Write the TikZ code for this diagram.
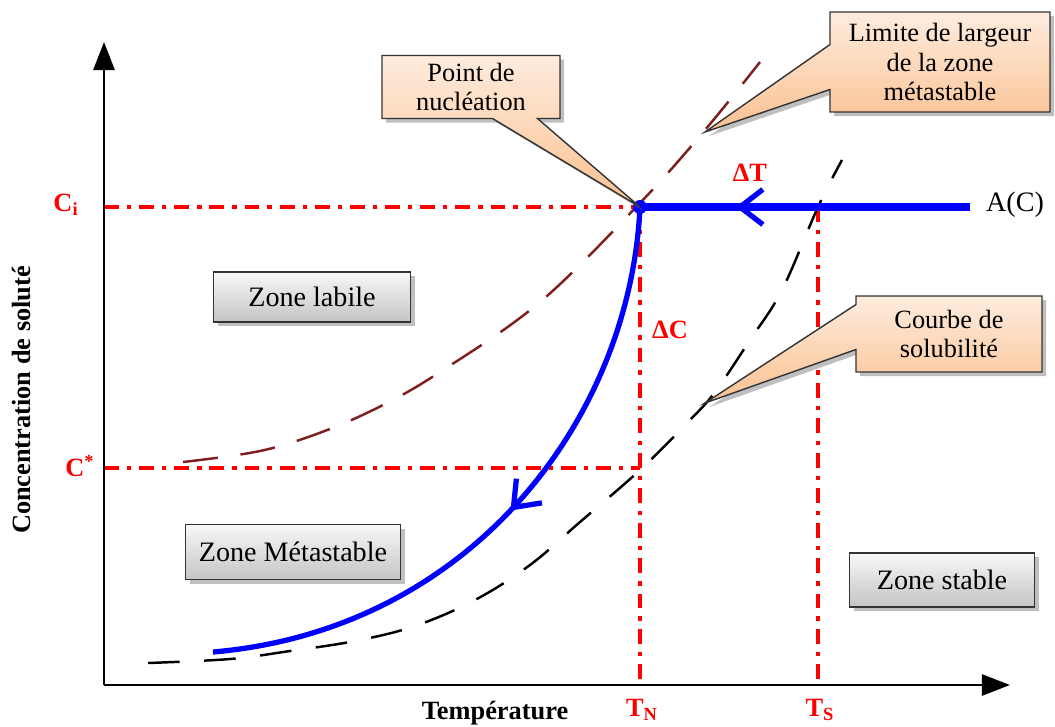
\documentclass[tikz,border=0pt]{standalone}
\usepackage{fontspec}
\setmainfont{Liberation Serif}
\usetikzlibrary{arrows.meta,shapes.callouts,shadows,decorations.markings}
\definecolor{peachtop}{RGB}{254,236,222}
\definecolor{peachbot}{RGB}{250,192,143}
\definecolor{greytop}{RGB}{248,248,248}
\definecolor{greybot}{RGB}{196,196,196}
\definecolor{brownline}{RGB}{128,30,30}
\begin{document}
\begin{tikzpicture}[x=0.02cm, y=-0.02cm,
        axis/.style={line width=1.5pt, -{Triangle[length=16pt,width=12pt]}},
        guide/.style={red, line width=2pt, dash pattern=on 8.5pt off 4.5pt on 2.5pt off 4.5pt},
        limit/.style={brownline, line width=1.4pt, dash pattern=on 20pt off 13pt},
        solub/.style={black, line width=1.4pt, dash pattern=on 18pt off 14pt},
        path/.style={blue, line width=3pt},
        tag/.style={red, font=\bfseries\fontsize{15}{18}\selectfont},
        bubble/.style={rectangle callout, draw=black!80, thick, top color=peachtop, bottom color=peachbot,
          drop shadow, align=center, callout pointer width=0.9cm, font=\fontsize{15}{17}\selectfont},
        zone/.style={rectangle, draw=black!80, thick, top color=greytop, bottom color=greybot,
          drop shadow, font=\fontsize{16}{18}\selectfont},
        midarrow/.style={postaction={decorate, decoration={markings,
          mark=at position #1 with {\arrow{Straight Barb[length=13pt,width=20pt,line width=3pt]}}}}}
      ]
      \useasboundingbox (0,0) rectangle (1055,727);
      % points
      \coordinate (O) at (104,685);
      \coordinate (ytop) at (104,42);
      \coordinate (xend) at (1010,685);
      \coordinate (ni) at (640,207);
      \coordinate (ci) at (104,207);
      \coordinate (cs) at (104,468);
      \coordinate (pn) at (640,468);
      \coordinate (tn) at (640,685);
      \coordinate (ts) at (818,685);
      \coordinate (tstop) at (818,207);
      \coordinate (ac) at (970,207);
      \coordinate (pend) at (213,652);
      \coordinate (limtip) at (705,132);
      \coordinate (soltip) at (705,403);
      % guides
      \draw[guide] (ci) -- (ni);
      \draw[guide] (cs) -- (pn);
      \draw[guide] (ni) -- (tn);
      \draw[guide] (tstop) -- (ts);
      % curves
      \draw[limit] plot[smooth, tension=0.6] coordinates {(183,462) (260,451) (322,432) (381,406) (440,372) (540,302) (640,203) (705,130) (760,62)};
      \draw[solub] plot[smooth, tension=0.6] coordinates {(148,663) (230,659) (290,651) (355,641) (415,626) (475,600) (530,565) (580,522) (640,470) (690,420) (715,392) (750,340) (782,290) (818,207) (842,160)};
      % axes
      \draw[axis] (O) -- (ytop);
      \draw[axis] (O) -- (xend);
      % path of the solution
      \draw[path, line width=4pt, midarrow=0.71] (ac) -- (ni);
      \draw[path, midarrow=0.5] (ni) .. controls (630,420) and (470,630) .. (pend);
      \fill[blue] (ni) circle (4pt);
      % labels
      \node[tag] (lci) at (66,205) {C\textsubscript{i}};
      \node[tag] (lcs) at (80,466) {C\textsuperscript{*}};
      \node[tag] (ltn) at (642,710) {T\textsubscript{N}};
      \node[tag] (lts) at (820,710) {T\textsubscript{S}};
      \node[tag] (ldt) at (750,173) {ΔT};
      \node[tag] (ldc) at (670,330) {ΔC};
      \node[font=\fontsize{16}{18}\selectfont] (lac) at (1015,205) {A(C)};
      \node[font=\bfseries\fontsize{15}{18}\selectfont] (lx) at (495,713) {Température};
      \node[font=\bfseries\fontsize{15}{18}\selectfont, rotate=90] (ly) at (22,400) {Concentration de soluté};
      % callouts
      \node[bubble, minimum width=3.56cm, minimum height=1.26cm, callout absolute pointer={(ni)}] (nucl) at (471,87) {Point de\\nucléation};
      \node[bubble, minimum width=4.4cm, minimum height=2cm, callout absolute pointer={(limtip)}] (larg) at (940,62) {Limite de largeur\\de la zone\\métastable};
      \node[bubble, minimum width=3.72cm, minimum height=1.52cm, callout absolute pointer={(soltip)}] (solb) at (949,334) {Courbe de\\solubilité};
      % zones
      \node[zone, minimum width=3.94cm, minimum height=1cm] (labile) at (312,297) {Zone labile};
      \node[zone, minimum width=4.3cm, minimum height=1.1cm] (meta) at (293,552) {Zone Métastable};
      \node[zone, minimum width=3.7cm, minimum height=1.08cm] (stable) at (942,580) {Zone stable};
    \end{tikzpicture}
\end{document}
